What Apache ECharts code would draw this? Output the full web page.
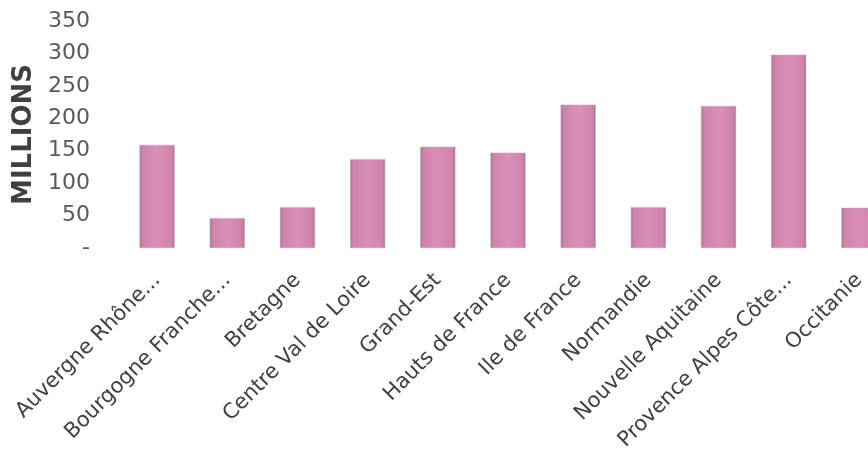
<!DOCTYPE html>
<html>
<head>
<meta charset="utf-8">
<script src="https://cdn.jsdelivr.net/npm/echarts@6/dist/echarts.min.js"></script>
<style>
html,body{margin:0;padding:0;background:#fff;}
#chart{width:868px;height:457px;}
</style>
</head>
<body>
<div id="chart"></div>
<script>
const categories = ['Auvergne Rhône...', 'Bourgogne Franche...', 'Bretagne', 'Centre Val de Loire', 'Grand-Est', 'Hauts de France', 'Ile de France', 'Normandie', 'Nouvelle Aquitaine', 'Provence Alpes Côte...', 'Occitanie'];
const values = [159, 46, 63, 137, 156, 147, 221, 63, 219, 298, 62];
const yTicks = { min: 0, max: 350, interval: 50 };
const yName = 'MILLIONS';

const chart = echarts.init(document.getElementById('chart'), null, { renderer: 'canvas' });
chart.setOption({
  animation: false,
  backgroundColor: '#ffffff',
  grid: { left: 122, right: -26, top: 21, bottom: 209, containLabel: false, outerBoundsMode: 'none' },
  xAxis: {
    type: 'category',
    data: categories,
    axisLine: { show: false },
    axisTick: { show: false },
    axisLabel: {
      interval: 0,
      rotate: 45,
      margin: 29,
      color: '#404040',
      fontFamily: 'DejaVu Sans',
      fontSize: 21
    }
  },
  yAxis: {
    type: 'value',
    min: yTicks.min,
    max: yTicks.max,
    interval: yTicks.interval,
    name: yName,
    nameLocation: 'middle',
    nameGap: 81,
    nameTextStyle: { fontFamily: 'DejaVu Sans', fontWeight: 'bold', fontSize: 26, color: '#404040' },
    axisLine: { show: false },
    axisTick: { show: false },
    splitLine: { show: false },
    axisLabel: {
      margin: 32,
      color: '#595959',
      fontFamily: 'DejaVu Sans',
      fontSize: 22,
      formatter: v => (v === 0 ? '-' : String(v))
    }
  },
  series: [{
    type: 'bar',
    data: values,
    barWidth: '50%',
    itemStyle: {
      color: new echarts.graphic.LinearGradient(0, 0, 1, 0, [
        { offset: 0, color: '#a97891' },
        { offset: 0.1, color: '#cf83ad' },
        { offset: 0.5, color: '#da8fb8' },
        { offset: 0.9, color: '#cf83ad' },
        { offset: 1, color: '#a97891' }
      ]),
      borderColor: '#c7a3b6',
      borderWidth: 0.5
    }
  }]
});
</script>
</body>
</html>
